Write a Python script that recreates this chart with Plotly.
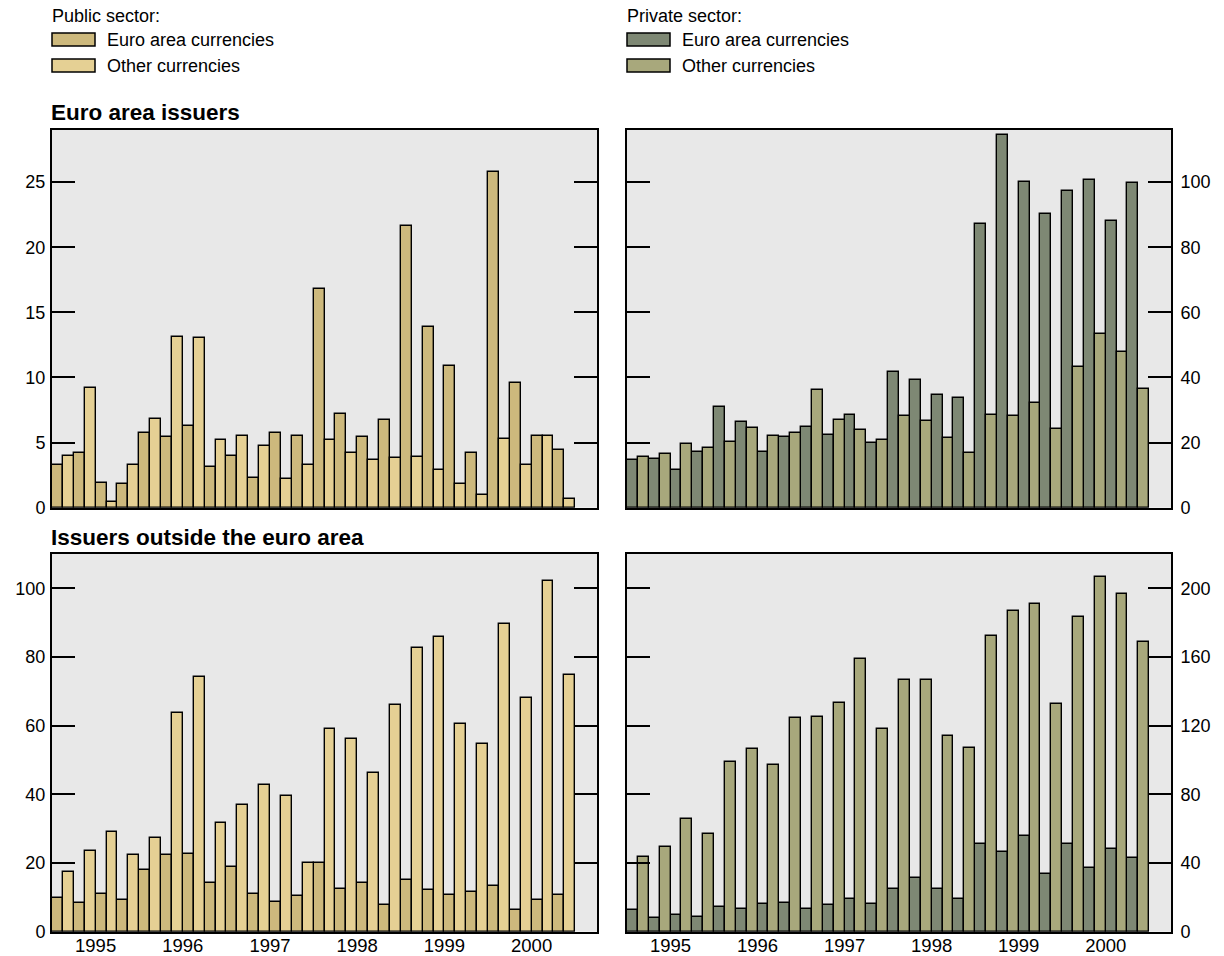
import plotly.graph_objects as go

quarters = list(range(24))  # 1995Q1 .. 2000Q4
year_labels = ["1995", "1996", "1997", "1998", "1999", "2000"]
year_tick_pos = [1.5, 5.5, 9.5, 13.5, 17.5, 21.5]

# Euro area issuers
pub_euro_ea = [3.3, 4.2, 1.9, 1.8, 5.7, 5.4, 6.3, 3.1, 4.0, 2.3, 5.7, 5.5,
               16.8, 7.2, 5.4, 6.7, 21.6, 13.9, 10.9, 4.2, 25.8, 9.6, 5.5, 4.4]
pub_other_ea = [4.0, 9.2, 0.4, 3.3, 6.8, 13.1, 13.0, 5.2, 5.5, 4.7, 2.2, 3.3,
                5.2, 4.2, 3.7, 3.8, 3.9, 2.9, 1.8, 1.0, 5.3, 3.3, 5.5, 0.7]
priv_euro_ea = [14.7, 15.1, 11.6, 17.2, 30.8, 26.2, 17.2, 21.6, 24.7, 22.4, 28.6, 19.9,
                41.6, 39.2, 34.6, 33.6, 87.1, 114.4, 100.1, 90.1, 97.3, 100.7, 88.2, 99.8]
priv_other_ea = [15.5, 16.4, 19.5, 18.4, 20.3, 24.4, 22.0, 22.8, 36.0, 26.8, 24.0, 20.7,
                 28.2, 26.5, 21.4, 16.8, 28.4, 28.2, 32.1, 24.3, 43.3, 53.2, 47.8, 36.6]

# Issuers outside the euro area
pub_euro_out = [9.7, 8.5, 11.0, 9.3, 18.0, 22.2, 22.5, 14.1, 18.9, 11.0, 8.7, 10.5,
                20.1, 12.4, 14.1, 7.8, 15.2, 12.1, 10.8, 11.5, 13.2, 6.3, 9.2, 10.6]
pub_other_out = [17.4, 23.4, 29.1, 22.3, 27.2, 63.7, 74.3, 31.7, 36.9, 42.6, 39.4, 20.1,
                 59.1, 56.0, 46.2, 66.0, 82.6, 85.9, 60.6, 54.8, 89.7, 68.1, 102.0, 74.8]
priv_euro_out = [12.6, 7.8, 9.5, 8.7, 14.5, 13.2, 16.1, 16.9, 13.0, 15.3, 18.8, 16.1,
                 24.8, 31.4, 25.0, 19.2, 50.8, 46.3, 56.0, 33.9, 50.8, 36.9, 47.9, 42.7]
priv_other_out = [43.4, 49.2, 65.9, 57.2, 99.1, 106.2, 96.9, 124.4, 125.2, 133.1, 158.9, 117.8,
                  146.5, 146.5, 113.8, 107.2, 172.1, 186.6, 191.1, 132.8, 183.1, 206.6, 196.5, 168.8]

C_PUB_EURO = "#CDB97D"
C_PUB_OTHER = "#E5D094"
C_PRIV_EURO = "#7E8874"
C_PRIV_OTHER = "#A8A87C"
BG = "#E8E8E8"
FONT = "Liberation Sans, Arial, sans-serif"

W, H = 1224, 956

def px_x(p):
    return p / W

def px_y(p):
    return 1 - p / H

fig = go.Figure()

def add_bars(vals, color, xa, ya, name):
    fig.add_trace(go.Bar(
        x=quarters, y=vals, name=name, xaxis=xa, yaxis=ya,
        marker=dict(color=color, line=dict(color="black", width=1.4)),
        showlegend=False, offsetgroup=name,
    ))

add_bars(pub_euro_ea, C_PUB_EURO, "x", "y", "a1")
add_bars(pub_other_ea, C_PUB_OTHER, "x", "y", "a2")
add_bars(priv_euro_ea, C_PRIV_EURO, "x2", "y2", "b1")
add_bars(priv_other_ea, C_PRIV_OTHER, "x2", "y2", "b2")
add_bars(pub_euro_out, C_PUB_EURO, "x3", "y3", "c1")
add_bars(pub_other_out, C_PUB_OTHER, "x3", "y3", "c2")
add_bars(priv_euro_out, C_PRIV_EURO, "x4", "y4", "d1")
add_bars(priv_other_out, C_PRIV_OTHER, "x4", "y4", "d2")

left_dom = [px_x(52), px_x(597)]
right_dom = [px_x(627), px_x(1171)]
top_dom = [px_y(507.7), px_y(130)]
bot_dom = [px_y(931.7), px_y(554)]

def xaxis(dom, anchor, show_labels):
    return dict(domain=dom, anchor=anchor, range=[-0.5, 24.5],
                tickvals=year_tick_pos, ticktext=year_labels,
                showticklabels=show_labels, ticks="", showgrid=False,
                zeroline=False, showline=True, linecolor="black", linewidth=2,
                mirror=True, tickfont=dict(family=FONT, size=18.5, color="black"),
                ticklabelstandoff=-4, automargin=False, fixedrange=True)

def yaxis(dom, anchor, rng, dtick, side):
    return dict(domain=dom, anchor=anchor, range=rng, dtick=dtick, tick0=0,
                side=side, ticks="inside", ticklen=23, tickwidth=2,
                tickcolor="black", showgrid=False, zeroline=False,
                showline=True, linecolor="black", linewidth=2, mirror="ticks",
                tickfont=dict(family=FONT, size=18, color="black"),
                ticklabelstandoff=(1 if side == "left" else 4),
                automargin=False, fixedrange=True)

fig.update_layout(
    width=W, height=H,
    margin=dict(l=0, r=0, t=0, b=0, pad=0),
    paper_bgcolor="white", plot_bgcolor=BG,
    barmode="group", bargap=0, bargroupgap=0,
    font=dict(family=FONT, color="black"),
    xaxis=xaxis(left_dom, "y", False),
    yaxis=yaxis(top_dom, "x", [0, 29], 5, "left"),
    xaxis2=xaxis(right_dom, "y2", False),
    yaxis2=yaxis(top_dom, "x2", [0, 116], 20, "right"),
    xaxis3=xaxis(left_dom, "y3", True),
    yaxis3=yaxis(bot_dom, "x3", [0, 110], 20, "left"),
    xaxis4=xaxis(right_dom, "y4", True),
    yaxis4=yaxis(bot_dom, "x4", [0, 220], 40, "right"),
)

annotations = []
shapes = []

def text(x, y, s, size=18, bold=False):
    annotations.append(dict(
        xref="paper", yref="paper", x=px_x(x), y=px_y(y),
        xanchor="left", yanchor="middle", showarrow=False,
        text=("<b>%s</b>" % s) if bold else s,
        font=dict(family=FONT, size=size, color="black"),
    ))

def swatch(x0, y0, x1, y1, color):
    shapes.append(dict(
        type="rect", xref="paper", yref="paper",
        x0=px_x(x0), x1=px_x(x1), y0=px_y(y1), y1=px_y(y0),
        fillcolor=color, line=dict(color="black", width=1.5),
    ))

# Legends
text(50, 16, "Public sector:")
swatch(52, 33, 95, 46, C_PUB_EURO)
text(105, 40, "Euro area currencies")
swatch(52, 59, 95, 72, C_PUB_OTHER)
text(105, 66, "Other currencies")

text(625, 16, "Private sector:")
swatch(627, 33, 670, 46, C_PRIV_EURO)
text(680, 40, "Euro area currencies")
swatch(627, 59, 670, 72, C_PRIV_OTHER)
text(680, 66, "Other currencies")

# Panel titles
text(49, 113, "Euro area issuers", size=22.5, bold=True)
text(49, 537, "Issuers outside the euro area", size=22.5, bold=True)

fig.update_layout(annotations=annotations, shapes=shapes)

fig.write_html(
    "out.html",
    config={"displayModeBar": False},
    post_script="document.body.style.margin='0';document.body.style.padding='0';",
)
